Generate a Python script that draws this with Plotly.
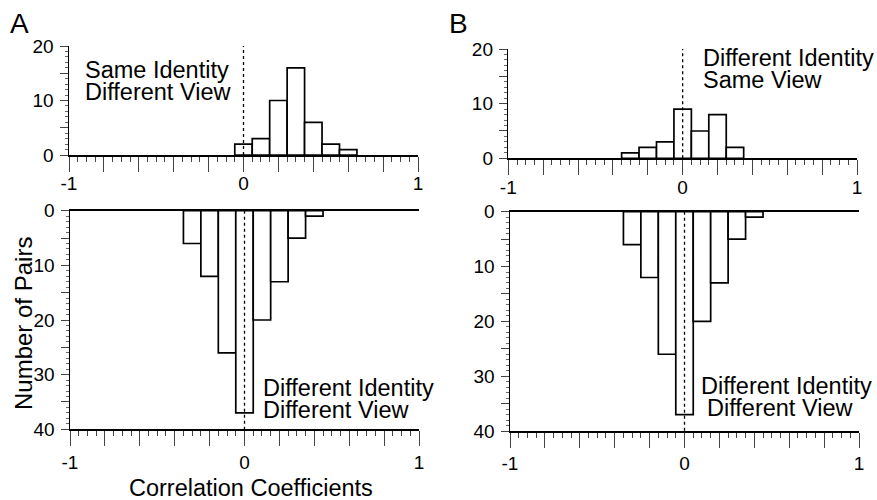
import plotly.graph_objects as go

# ---------------- data ----------------
centers_A_top = [0.0, 0.1, 0.2, 0.3, 0.4, 0.5, 0.6]
counts_A_top = [2, 3, 10, 16, 6, 2, 1]

centers_B_top = [-0.3, -0.2, -0.1, 0.0, 0.1, 0.2, 0.3]
counts_B_top = [1, 2, 3, 9, 5, 8, 2]

centers_bottom = [-0.3, -0.2, -0.1, 0.0, 0.1, 0.2, 0.3, 0.4]
counts_A_bottom = [6, 12, 26, 37, 20, 13, 5, 1]
counts_B_bottom = [6, 12, 26, 37, 20, 13, 5, 1]

bin_width = 0.1

x_tickvals = [-1, -0.8, -0.6, -0.4, -0.2, 0, 0.2, 0.4, 0.6, 0.8, 1]
x_ticktext = ["-1", "", "", "", "", "0", "", "", "", "", "1"]
ytop_tickvals = [0, 5, 10, 15, 20]
ytop_ticktext = ["0", "", "10", "", "20"]
ybot_tickvals = [0, 5, 10, 15, 20, 25, 30, 35, 40]
ybot_ticktext = ["0", "", "10", "", "20", "", "30", "", "40"]

label_A_top = ["Same Identity", "Different View"]
label_B_top = ["Different Identity", "Same View"]
label_bottom = ["Different Identity", "Different View"]

# ---------------- figure ----------------
W, H = 877, 500
FONT = "Liberation Sans, Arial, sans-serif"


def px(x):
    return x / W


def py(y):
    return 1 - y / H


fig = go.Figure()

bar_style = dict(marker=dict(color="white", line=dict(color="black", width=1.7)),
                 width=bin_width, showlegend=False, hoverinfo="skip")

fig.add_trace(go.Bar(x=centers_A_top, y=counts_A_top, xaxis="x", yaxis="y", **bar_style))
fig.add_trace(go.Bar(x=centers_bottom, y=counts_A_bottom, xaxis="x2", yaxis="y2", **bar_style))
fig.add_trace(go.Bar(x=centers_B_top, y=counts_B_top, xaxis="x3", yaxis="y3", **bar_style))
fig.add_trace(go.Bar(x=centers_bottom, y=counts_B_bottom, xaxis="x4", yaxis="y4", **bar_style))

tickfont = dict(family=FONT, size=19, color="black")


def xaxis(domain, anchor, mirror=False, standoff=0):
    return dict(domain=domain, anchor=anchor, range=[-1, 1], showline=True, linecolor="black",
                linewidth=1.5, mirror=mirror, showgrid=False, zeroline=False,
                automargin=False,
                tickmode="array", tickvals=x_tickvals, ticktext=x_ticktext,
                ticks="outside", ticklen=15, tickwidth=1, tickcolor="#444",
                ticklabelstandoff=standoff,
                minor=dict(tickmode="linear", tick0=0, dtick=0.05, ticks="outside",
                           ticklen=5, tickwidth=1, tickcolor="#444"),
                tickfont=tickfont, fixedrange=True)


def yaxis(domain, anchor, rng, vals, text):
    return dict(domain=domain, anchor=anchor, range=rng, showline=True, linecolor="black",
                linewidth=1.5, showgrid=False, zeroline=False,
                automargin=False,
                tickmode="array", tickvals=vals, ticktext=text,
                ticks="outside", ticklen=8, tickwidth=1, tickcolor="#444",
                ticklabelstandoff=2,
                minor=dict(tickmode="linear", tick0=0, dtick=1, ticks="outside",
                           ticklen=3, tickwidth=1, tickcolor="#666"),
                tickfont=tickfont, fixedrange=True)


fig.update_layout(
    width=W, height=H,
    margin=dict(l=0, r=0, t=0, b=0, pad=0, autoexpand=False),
    paper_bgcolor="white", plot_bgcolor="white",
    barmode="overlay",
    xaxis=xaxis([px(69), px(418)], "y", standoff=-4),
    yaxis=yaxis([py(155), py(46)], "x", [0, 20], ytop_tickvals, ytop_ticktext),
    xaxis2=xaxis([px(70), px(419)], "y2", mirror=True, standoff=0),
    yaxis2=yaxis([py(429.3), py(210.7)], "x2", [40, 0], ybot_tickvals, ybot_ticktext),
    xaxis3=xaxis([px(508.3), px(857)], "y3", standoff=-4),
    yaxis3=yaxis([py(158.3), py(49)], "x3", [0, 20], ytop_tickvals, ytop_ticktext),
    xaxis4=xaxis([px(510), px(859)], "y4", mirror=True, standoff=0),
    yaxis4=yaxis([py(431), py(211.7)], "x4", [40, 0], ybot_tickvals, ybot_ticktext),
)

# dotted reference lines at r = 0
dot = dict(color="black", width=1.3, dash="dot")
for xr, yr, ytop in [("x", "y", 20.3), ("x2", "y2", 40), ("x3", "y3", 20.3), ("x4", "y4", 40)]:
    fig.add_shape(type="line", xref=xr, yref=yr, x0=0, x1=0, y0=0, y1=ytop, line=dot, layer="above")

lab = dict(family=FONT, size=23.5, color="black")


def text(s, x, y, xanchor="left", size=None, angle=0):
    f = dict(lab)
    if size:
        f["size"] = size
    fig.add_annotation(text=s, x=px(x), y=py(y), xref="paper", yref="paper",
                       xanchor=xanchor, yanchor="middle", showarrow=False,
                       font=f, textangle=angle)


text(label_A_top[0], 83, 70)
text(label_A_top[1], 83, 92)
text(label_B_top[0], 701, 58)
text(label_B_top[1], 701, 80)
text(label_bottom[0], 261, 388)
text(label_bottom[1], 261, 410)
text(label_bottom[0], 699, 386)
text(label_bottom[1], 705, 408)

text("Correlation Coefficients", 251, 488, xanchor="center", size=23.5)
text("Number of Pairs", 23, 324, xanchor="center", size=24, angle=-90)

text("A", 19.5, 23, xanchor="center", size=28)
text("B", 458, 23, xanchor="center", size=28)

fig.write_html(
    "out.html",
    config={"displayModeBar": False, "staticPlot": True},
    post_script="document.body.style.margin='0';document.body.style.overflow='hidden';",
)
